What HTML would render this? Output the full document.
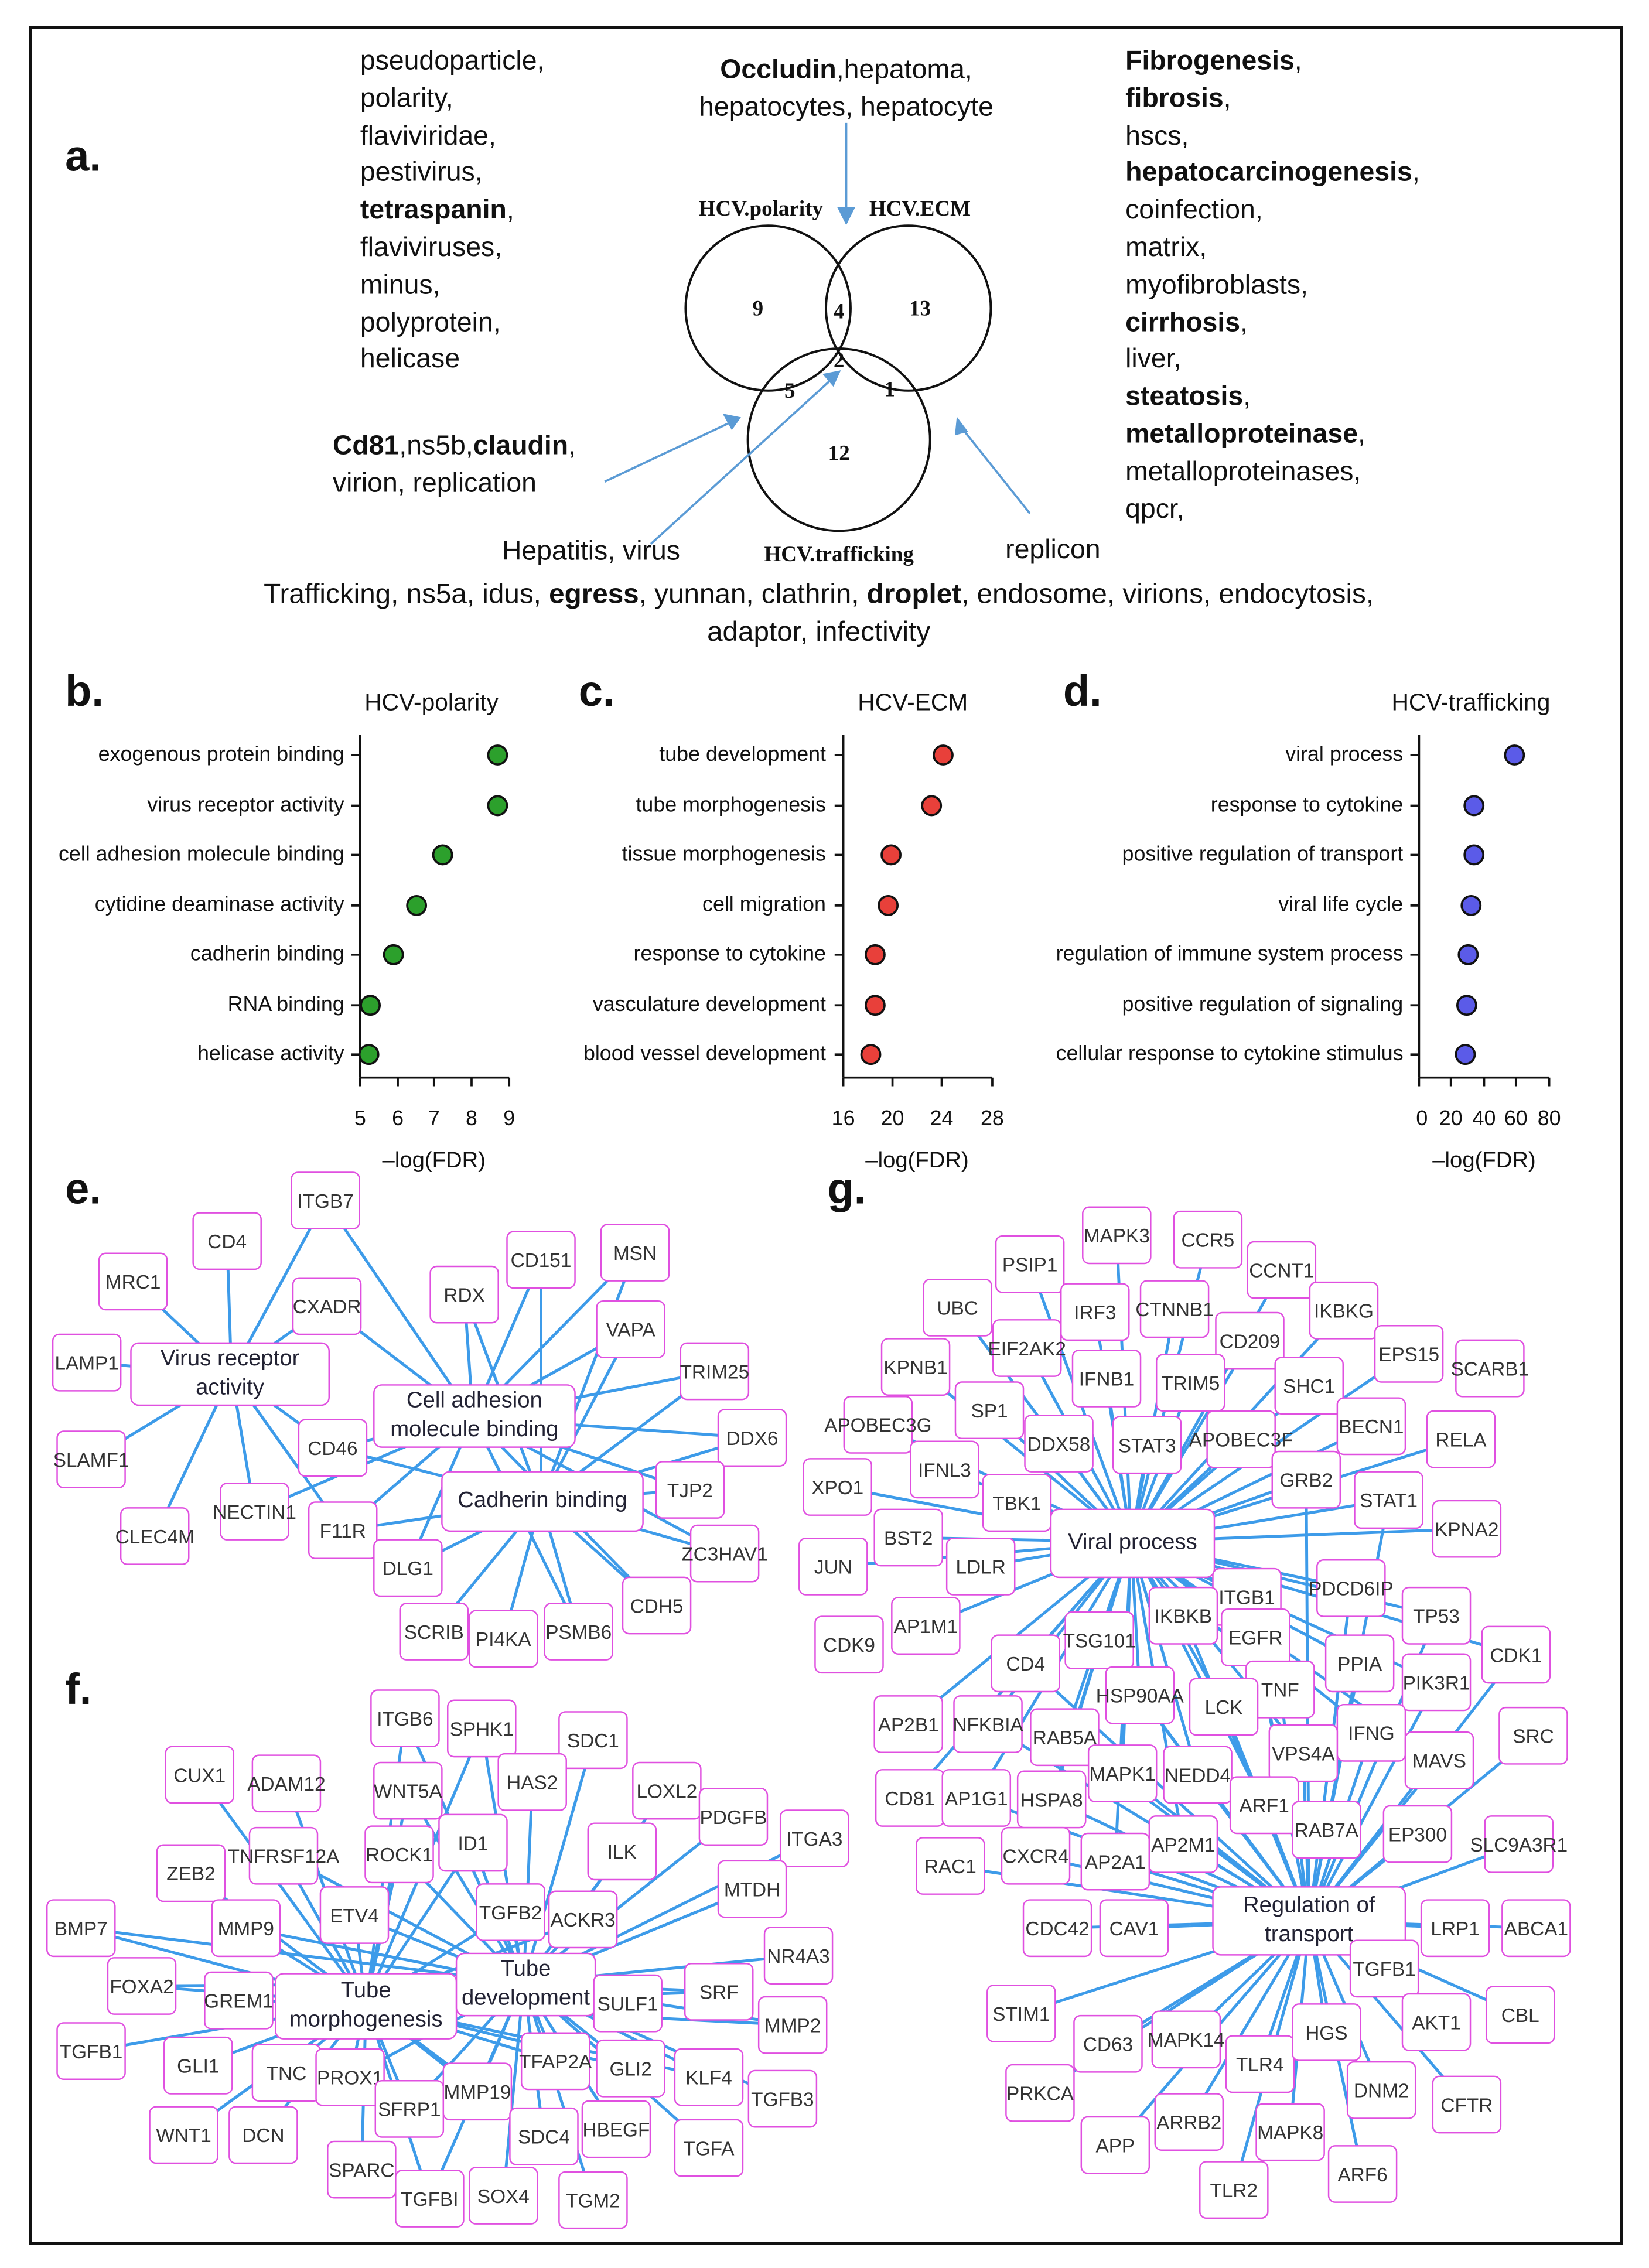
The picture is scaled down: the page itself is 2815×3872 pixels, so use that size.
<!DOCTYPE html>
<html><head><meta charset="utf-8"><style>
html,body{margin:0;padding:0;background:#fff}
body{width:2815px;height:3872px;overflow:hidden;position:relative}
#w{position:absolute;left:0;top:0;width:1140px;height:1568px;transform:scale(2.4693,2.4694);transform-origin:0 0;font-family:"Liberation Sans",sans-serif;color:#111}
.t{position:absolute;white-space:nowrap}
.wl{position:absolute;font-size:18.8px;line-height:25.8px;white-space:pre}
.n{position:absolute;width:46px;height:38px;margin-left:-24px;margin-top:-20px;border:1.6px solid #e050e0;border-radius:5px;background:#fff;display:flex;align-items:center;justify-content:center;font-size:13.5px;color:#333;white-space:nowrap;overflow:visible}
.h{position:absolute;border:1.6px solid #e050e0;border-radius:6px;background:#fff;display:flex;align-items:center;justify-content:center;text-align:center;font-size:15.5px;line-height:20px;color:#223}
.lbl{position:absolute;font-size:14.5px;text-align:right;width:240px;white-space:nowrap}
.tk{position:absolute;font-size:14.5px;transform:translateX(-50%)}
.big{position:absolute;font-size:30px;font-weight:bold}
svg{position:absolute;left:0;top:0}
</style></head><body><div id="w">
<div style="position:absolute;left:20px;top:18px;width:1098px;height:1530px;border:2px solid #111"></div>

<div class="big" style="left:45px;top:92px">a.</div>
<div class="wl" style="left:249px;top:29px">pseudoparticle,
polarity,
flaviviridae,
pestivirus,
<b>tetraspanin</b>,
flaviviruses,
minus,
polyprotein,
helicase</div>
<div class="wl" style="left:778px;top:29px"><b>Fibrogenesis</b>,
<b>fibrosis</b>,
hscs,
<b>hepatocarcinogenesis</b>,
coinfection,
matrix,
myofibroblasts,
<b>cirrhosis</b>,
liver,
<b>steatosis</b>,
<b>metalloproteinase</b>,
metalloproteinases,
qpcr,</div>
<div class="wl" style="left:465px;top:35px;width:240px;text-align:center"><b>Occludin</b>,hepatoma,
hepatocytes, hepatocyte</div>
<div class="wl" style="left:230px;top:295px"><b>Cd81</b>,ns5b,<b>claudin</b>,
virion, replication</div>
<div class="wl" style="left:347px;top:368px">Hepatitis, virus</div>
<div class="wl" style="left:695px;top:367px">replicon</div>
<div class="wl" style="left:90px;top:399px;width:952px;text-align:center;font-size:19.3px">Trafficking, ns5a, idus, <b>egress</b>, yunnan, clathrin, <b>droplet</b>, endosome, virions, endocytosis,
adaptor, infectivity</div>

<svg width="1140" height="1568" viewBox="0 0 1140 1568">
<g fill="none" stroke="#111" stroke-width="1.6">
<circle cx="531" cy="213" r="57"/><circle cx="628" cy="213" r="57"/><circle cx="580" cy="304" r="63"/>
</g>
<g font-family="Liberation Serif,serif" font-weight="bold" font-size="15" text-anchor="middle" fill="#111">
<text x="526" y="149">HCV.polarity</text><text x="636" y="149">HCV.ECM</text><text x="580" y="388">HCV.trafficking</text>
<text x="524" y="218">9</text><text x="580" y="220">4</text><text x="636" y="218">13</text><text x="580" y="254">2</text><text x="546" y="275">5</text><text x="615" y="274">1</text><text x="580" y="318">12</text>
</g>
<g stroke="#5b9bd5" stroke-width="1.5" fill="#5b9bd5">
<line x1="585" y1="85" x2="585" y2="148"/><polygon points="580,144 590,144 585,154"/>
<line x1="418" y1="333" x2="505" y2="292"/><polygon points="501,287 511,289 506,296"/>
<line x1="450" y1="376" x2="574" y2="263"/><polygon points="570,259 580,257 576,266"/>
<line x1="712" y1="355" x2="665" y2="296"/><polygon points="661,300 668,298 662,290"/>
</g>

<g stroke="#111" stroke-width="1.5">
<line x1="249" y1="508" x2="249" y2="745"/><line x1="249" y1="745" x2="352" y2="745"/>
<line x1="583" y1="508" x2="583" y2="745"/><line x1="583" y1="745" x2="686" y2="745"/>
<line x1="981" y1="508" x2="981" y2="745"/><line x1="981" y1="745" x2="1071" y2="745"/>
<path d="M249 745v6M275 745v6M300 745v6M326 745v6M352 745v6M583 745v6M617 745v6M651 745v6M686 745v6M981 745v6M1003 745v6M1026 745v6M1048 745v6M1071 745v6"/>
<path d="M243 522h6M243 557h6M243 591h6M243 626h6M243 660h6M243 695h6M243 729h6M577 522h6M577 557h6M577 591h6M577 626h6M577 660h6M577 695h6M577 729h6M975 522h6M975 557h6M975 591h6M975 626h6M975 660h6M975 695h6M975 729h6"/>
</g>
<g stroke="#111" stroke-width="1.5">
<g fill="#2ca02c"><circle cx="344" cy="522" r="6.5"/><circle cx="344" cy="557" r="6.5"/><circle cx="306" cy="591" r="6.5"/><circle cx="288" cy="626" r="6.5"/><circle cx="272" cy="660" r="6.5"/><circle cx="256" cy="695" r="6.5"/><circle cx="255" cy="729" r="6.5"/></g>
<g fill="#e8403a"><circle cx="652" cy="522" r="6.5"/><circle cx="644" cy="557" r="6.5"/><circle cx="616" cy="591" r="6.5"/><circle cx="614" cy="626" r="6.5"/><circle cx="605" cy="660" r="6.5"/><circle cx="605" cy="695" r="6.5"/><circle cx="602" cy="729" r="6.5"/></g>
<g fill="#5b5be8"><circle cx="1047" cy="522" r="6.5"/><circle cx="1019" cy="557" r="6.5"/><circle cx="1019" cy="591" r="6.5"/><circle cx="1017" cy="626" r="6.5"/><circle cx="1015" cy="660" r="6.5"/><circle cx="1014" cy="695" r="6.5"/><circle cx="1013" cy="729" r="6.5"/></g>
</g>

<g stroke="#3d9be9" stroke-width="2" fill="none">
<path d="M160 950L225 830M160 950L157 858M160 950L92 886M160 950L226 903M160 950L60 942M160 950L63 1009M160 950L230 1001M160 950L176 1045M160 950L107 1062M160 950L237 1058"/>
<path d="M327 980L225 830M327 980L226 903M327 980L321 895M327 980L374 871M327 980L439 866M327 980L436 919M327 980L494 948M327 980L520 994M327 980L477 1030M327 980L230 1001M327 980L237 1058M327 980L282 1084M327 980L176 1045M327 980L501 1074M327 980L454 1110M327 980L400 1128"/>
<path d="M374 1038L321 895M374 1038L374 871M374 1038L439 866M374 1038L436 919M374 1038L494 948M374 1038L520 994M374 1038L477 1030M374 1038L501 1074M374 1038L454 1110M374 1038L400 1128M374 1038L348 1133M374 1038L300 1128M374 1038L282 1084M374 1038L237 1058M374 1038L230 1001"/>
<path d="M253 1385L280 1188M253 1385L333 1195M253 1385L138 1227M253 1385L198 1233M253 1385L282 1238M253 1385L132 1295M253 1385L196 1283M253 1385L276 1282M253 1385L327 1274M253 1385L56 1333M253 1385L170 1333M253 1385L245 1324M253 1385L353 1322M253 1385L98 1373M253 1385L165 1383M253 1385L63 1418M253 1385L137 1428M253 1385L198 1433M253 1385L242 1436M253 1385L127 1476M253 1385L182 1476M253 1385L283 1458M253 1385L330 1446M253 1385L250 1500M253 1385L297 1520M253 1385L384 1425M253 1385L436 1430M253 1385L490 1436M253 1385L497 1377M253 1385L434 1385M253 1385L403 1327M253 1385L376 1477M253 1385L548 1400"/>
<path d="M362 1371L280 1188M362 1371L333 1195M362 1371L410 1203M362 1371L282 1238M362 1371L368 1232M362 1371L461 1238M362 1371L507 1256M362 1371L563 1271M362 1371L276 1282M362 1371L327 1274M362 1371L430 1280M362 1371L56 1333M362 1371L170 1333M362 1371L245 1324M362 1371L353 1322M362 1371L403 1327M362 1371L520 1306M362 1371L552 1352M362 1371L98 1373M362 1371L497 1377M362 1371L434 1385M362 1371L548 1400M362 1371L384 1425M362 1371L436 1430M362 1371L490 1436M362 1371L541 1451M362 1371L283 1458M362 1371L330 1446M362 1371L376 1477M362 1371L426 1472M362 1371L490 1485M362 1371L348 1518M362 1371L410 1521M362 1371L297 1520M362 1371L242 1436M362 1371L196 1283"/>
<path d="M782 1066L772 854M782 1066L835 857M782 1066L712 874M782 1066L886 878M782 1066L662 904M782 1066L757 907M782 1066L812 905M782 1066L929 906M782 1066L864 927M782 1066L710 932M782 1066L974 936M782 1066L633 945M782 1066L765 953M782 1066L823 956M782 1066L905 958M782 1066L684 975M782 1066L607 985M782 1066L732 998M782 1066L793 999M782 1066L858 995M782 1066L948 986M782 1066L1010 995M782 1066L653 1016M782 1066L579 1028M782 1066L903 1023M782 1066L960 1037M782 1066L703 1039M782 1066L628 1063M782 1066L1014 1057M782 1066L678 1083M782 1066L576 1083M782 1066L862 1104M782 1066L934 1098M782 1066L818 1117M782 1066L993 1117M782 1066L640 1124M782 1066L760 1134M782 1066L868 1132M782 1066L940 1150M782 1066L709 1150M782 1066L885 1168M782 1066L788 1172M782 1066L846 1180M782 1066L683 1192M782 1066L628 1192M782 1066L736 1201M782 1066L948 1198M782 1066L901 1212M782 1066L995 1217M782 1066L776 1226M782 1066L828 1227M782 1066L727 1244M782 1066L629 1243M782 1066L675 1243M782 1066L874 1248M782 1066L716 1283M782 1066L771 1287M782 1066L818 1275M782 1066L1048 1144M782 1066L993 1163"/>
<path d="M905 1328L862 1104M905 1328L934 1098M905 1328L818 1117M905 1328L993 1117M905 1328L760 1134M905 1328L868 1132M905 1328L940 1150M905 1328L709 1150M905 1328L885 1168M905 1328L788 1172M905 1328L846 1180M905 1328L683 1192M905 1328L736 1201M905 1328L1060 1200M905 1328L948 1198M905 1328L901 1212M905 1328L995 1217M905 1328L776 1226M905 1328L828 1227M905 1328L727 1244M905 1328L675 1243M905 1328L874 1248M905 1328L917 1265M905 1328L980 1268M905 1328L1050 1275M905 1328L716 1283M905 1328L771 1287M905 1328L818 1275M905 1328L657 1290M905 1328L731 1333M905 1328L784 1333M905 1328L1006 1333M905 1328L1062 1333M905 1328L957 1361M905 1328L706 1392M905 1328L766 1413M905 1328L820 1410M905 1328L871 1427M905 1328L917 1405M905 1328L993 1398M905 1328L1051 1393M905 1328L955 1445M905 1328L1014 1455M905 1328L719 1447M905 1328L822 1467M905 1328L892 1474M905 1328L771 1483M905 1328L942 1503M905 1328L853 1514M905 1328L903 1023M905 1328L960 1037M905 1328L1048 1144M905 1328L993 1163"/>
</g>
</svg>

<div class="big" style="left:45px;top:462px">b.</div>
<div class="big" style="left:400px;top:462px">c.</div>
<div class="big" style="left:735px;top:462px">d.</div>
<div class="t" style="left:252px;top:477px;font-size:16.5px">HCV-polarity</div>
<div class="t" style="left:593px;top:477px;font-size:16.5px">HCV-ECM</div>
<div class="t" style="left:962px;top:477px;font-size:16.5px">HCV-trafficking</div>

<div class="lbl" style="left:-2px;top:514px">exogenous protein binding</div>
<div class="lbl" style="left:-2px;top:549px">virus receptor activity</div>
<div class="lbl" style="left:-2px;top:583px">cell adhesion molecule binding</div>
<div class="lbl" style="left:-2px;top:618px">cytidine deaminase activity</div>
<div class="lbl" style="left:-2px;top:652px">cadherin binding</div>
<div class="lbl" style="left:-2px;top:687px">RNA binding</div>
<div class="lbl" style="left:-2px;top:721px">helicase activity</div>

<div class="lbl" style="left:331px;top:514px">tube development</div>
<div class="lbl" style="left:331px;top:549px">tube morphogenesis</div>
<div class="lbl" style="left:331px;top:583px">tissue morphogenesis</div>
<div class="lbl" style="left:331px;top:618px">cell migration</div>
<div class="lbl" style="left:331px;top:652px">response to cytokine</div>
<div class="lbl" style="left:331px;top:687px">vasculature development</div>
<div class="lbl" style="left:331px;top:721px">blood vessel development</div>

<div class="lbl" style="left:730px;top:514px">viral process</div>
<div class="lbl" style="left:730px;top:549px">response to cytokine</div>
<div class="lbl" style="left:730px;top:583px">positive regulation of transport</div>
<div class="lbl" style="left:730px;top:618px">viral life cycle</div>
<div class="lbl" style="left:730px;top:652px">regulation of immune system process</div>
<div class="lbl" style="left:730px;top:687px">positive regulation of signaling</div>
<div class="lbl" style="left:730px;top:721px">cellular response to cytokine stimulus</div>

<div class="tk" style="left:249px;top:766px">5</div><div class="tk" style="left:275px;top:766px">6</div><div class="tk" style="left:300px;top:766px">7</div><div class="tk" style="left:326px;top:766px">8</div><div class="tk" style="left:352px;top:766px">9</div>
<div class="tk" style="left:583px;top:766px">16</div><div class="tk" style="left:617px;top:766px">20</div><div class="tk" style="left:651px;top:766px">24</div><div class="tk" style="left:686px;top:766px">28</div>
<div class="tk" style="left:983px;top:766px">0</div><div class="tk" style="left:1003px;top:766px">20</div><div class="tk" style="left:1026px;top:766px">40</div><div class="tk" style="left:1048px;top:766px">60</div><div class="tk" style="left:1071px;top:766px">80</div>
<div class="tk" style="left:300px;top:794px;font-size:15.5px">–log(FDR)</div>
<div class="tk" style="left:634px;top:794px;font-size:15.5px">–log(FDR)</div>
<div class="tk" style="left:1026px;top:794px;font-size:15.5px">–log(FDR)</div>

<div class="big" style="left:45px;top:806px">e.</div>
<div class="big" style="left:45px;top:1152px">f.</div>
<div class="big" style="left:572px;top:806px">g.</div>

<div class="h" style="left:90px;top:928px;width:136px;height:42px">Virus receptor<br>activity</div>
<div class="h" style="left:258px;top:957px;width:138px;height:42px">Cell adhesion<br>molecule binding</div>
<div class="h" style="left:305px;top:1017px;width:138px;height:40px">Cadherin binding</div>
<div class="n" style="left:225px;top:830px">ITGB7</div><div class="n" style="left:157px;top:858px">CD4</div><div class="n" style="left:92px;top:886px">MRC1</div><div class="n" style="left:226px;top:903px">CXADR</div><div class="n" style="left:60px;top:942px">LAMP1</div><div class="n" style="left:63px;top:1009px">SLAMF1</div><div class="n" style="left:230px;top:1001px">CD46</div><div class="n" style="left:176px;top:1045px">NECTIN1</div><div class="n" style="left:107px;top:1062px">CLEC4M</div><div class="n" style="left:237px;top:1058px">F11R</div><div class="n" style="left:321px;top:895px">RDX</div><div class="n" style="left:374px;top:871px">CD151</div><div class="n" style="left:439px;top:866px">MSN</div><div class="n" style="left:436px;top:919px">VAPA</div><div class="n" style="left:494px;top:948px">TRIM25</div><div class="n" style="left:520px;top:994px">DDX6</div><div class="n" style="left:477px;top:1030px">TJP2</div><div class="n" style="left:501px;top:1074px">ZC3HAV1</div><div class="n" style="left:454px;top:1110px">CDH5</div><div class="n" style="left:400px;top:1128px">PSMB6</div><div class="n" style="left:348px;top:1133px">PI4KA</div><div class="n" style="left:300px;top:1128px">SCRIB</div><div class="n" style="left:282px;top:1084px">DLG1</div>

<div class="h" style="left:190px;top:1364px;width:124px;height:44px">Tube<br>morphogenesis</div>
<div class="h" style="left:315px;top:1350px;width:95px;height:42px">Tube<br>development</div>
<div class="n" style="left:280px;top:1188px">ITGB6</div><div class="n" style="left:333px;top:1195px">SPHK1</div><div class="n" style="left:410px;top:1203px">SDC1</div><div class="n" style="left:138px;top:1227px">CUX1</div><div class="n" style="left:198px;top:1233px">ADAM12</div><div class="n" style="left:282px;top:1238px">WNT5A</div><div class="n" style="left:368px;top:1232px">HAS2</div><div class="n" style="left:461px;top:1238px">LOXL2</div><div class="n" style="left:507px;top:1256px">PDGFB</div><div class="n" style="left:563px;top:1271px">ITGA3</div><div class="n" style="left:132px;top:1295px">ZEB2</div><div class="n" style="left:196px;top:1283px">TNFRSF12A</div><div class="n" style="left:276px;top:1282px">ROCK1</div><div class="n" style="left:327px;top:1274px">ID1</div><div class="n" style="left:430px;top:1280px">ILK</div><div class="n" style="left:56px;top:1333px">BMP7</div><div class="n" style="left:170px;top:1333px">MMP9</div><div class="n" style="left:245px;top:1324px">ETV4</div><div class="n" style="left:353px;top:1322px">TGFB2</div><div class="n" style="left:403px;top:1327px">ACKR3</div><div class="n" style="left:520px;top:1306px">MTDH</div><div class="n" style="left:552px;top:1352px">NR4A3</div><div class="n" style="left:98px;top:1373px">FOXA2</div><div class="n" style="left:165px;top:1383px">GREM1</div><div class="n" style="left:497px;top:1377px">SRF</div><div class="n" style="left:434px;top:1385px">SULF1</div><div class="n" style="left:548px;top:1400px">MMP2</div><div class="n" style="left:63px;top:1418px">TGFB1</div><div class="n" style="left:137px;top:1428px">GLI1</div><div class="n" style="left:198px;top:1433px">TNC</div><div class="n" style="left:242px;top:1436px">PROX1</div><div class="n" style="left:384px;top:1425px">TFAP2A</div><div class="n" style="left:436px;top:1430px">GLI2</div><div class="n" style="left:490px;top:1436px">KLF4</div><div class="n" style="left:541px;top:1451px">TGFB3</div><div class="n" style="left:283px;top:1458px">SFRP1</div><div class="n" style="left:330px;top:1446px">MMP19</div><div class="n" style="left:127px;top:1476px">WNT1</div><div class="n" style="left:182px;top:1476px">DCN</div><div class="n" style="left:376px;top:1477px">SDC4</div><div class="n" style="left:426px;top:1472px">HBEGF</div><div class="n" style="left:490px;top:1485px">TGFA</div><div class="n" style="left:250px;top:1500px">SPARC</div><div class="n" style="left:297px;top:1520px">TGFBI</div><div class="n" style="left:348px;top:1518px">SOX4</div><div class="n" style="left:410px;top:1521px">TGM2</div>

<div class="n" style="left:772px;top:854px">MAPK3</div><div class="n" style="left:835px;top:857px">CCR5</div><div class="n" style="left:712px;top:874px">PSIP1</div><div class="n" style="left:886px;top:878px">CCNT1</div><div class="n" style="left:662px;top:904px">UBC</div><div class="n" style="left:757px;top:907px">IRF3</div><div class="n" style="left:812px;top:905px">CTNNB1</div><div class="n" style="left:929px;top:906px">IKBKG</div><div class="n" style="left:864px;top:927px">CD209</div><div class="n" style="left:710px;top:932px">EIF2AK2</div><div class="n" style="left:974px;top:936px">EPS15</div><div class="n" style="left:1030px;top:946px">SCARB1</div><div class="n" style="left:633px;top:945px">KPNB1</div><div class="n" style="left:765px;top:953px">IFNB1</div><div class="n" style="left:823px;top:956px">TRIM5</div><div class="n" style="left:905px;top:958px">SHC1</div><div class="n" style="left:684px;top:975px">SP1</div><div class="n" style="left:607px;top:985px">APOBEC3G</div><div class="n" style="left:732px;top:998px">DDX58</div><div class="n" style="left:793px;top:999px">STAT3</div><div class="n" style="left:858px;top:995px">APOBEC3F</div><div class="n" style="left:948px;top:986px">BECN1</div><div class="n" style="left:1010px;top:995px">RELA</div><div class="n" style="left:653px;top:1016px">IFNL3</div><div class="n" style="left:579px;top:1028px">XPO1</div><div class="n" style="left:903px;top:1023px">GRB2</div><div class="n" style="left:960px;top:1037px">STAT1</div><div class="n" style="left:703px;top:1039px">TBK1</div><div class="n" style="left:628px;top:1063px">BST2</div><div class="n" style="left:1014px;top:1057px">KPNA2</div><div class="n" style="left:678px;top:1083px">LDLR</div><div class="n" style="left:576px;top:1083px">JUN</div>
<div class="h" style="left:726px;top:1043px;width:112px;height:46px">Viral process</div>
<div class="n" style="left:862px;top:1104px">ITGB1</div><div class="n" style="left:934px;top:1098px">PDCD6IP</div><div class="n" style="left:818px;top:1117px">IKBKB</div><div class="n" style="left:993px;top:1117px">TP53</div><div class="n" style="left:640px;top:1124px">AP1M1</div><div class="n" style="left:587px;top:1137px">CDK9</div><div class="n" style="left:760px;top:1134px">TSG101</div><div class="n" style="left:868px;top:1132px">EGFR</div><div class="n" style="left:940px;top:1150px">PPIA</div><div class="n" style="left:1048px;top:1144px">CDK1</div><div class="n" style="left:709px;top:1150px">CD4</div><div class="n" style="left:993px;top:1163px">PIK3R1</div><div class="n" style="left:885px;top:1168px">TNF</div><div class="n" style="left:788px;top:1172px">HSP90AA</div><div class="n" style="left:846px;top:1180px">LCK</div><div class="n" style="left:683px;top:1192px">NFKBIA</div><div class="n" style="left:628px;top:1192px">AP2B1</div><div class="n" style="left:736px;top:1201px">RAB5A</div><div class="n" style="left:1060px;top:1200px">SRC</div><div class="n" style="left:948px;top:1198px">IFNG</div><div class="n" style="left:901px;top:1212px">VPS4A</div><div class="n" style="left:995px;top:1217px">MAVS</div><div class="n" style="left:776px;top:1226px">MAPK1</div><div class="n" style="left:828px;top:1227px">NEDD4</div><div class="n" style="left:727px;top:1244px">HSPA8</div><div class="n" style="left:629px;top:1243px">CD81</div><div class="n" style="left:675px;top:1243px">AP1G1</div><div class="n" style="left:874px;top:1248px">ARF1</div><div class="n" style="left:917px;top:1265px">RAB7A</div><div class="n" style="left:980px;top:1268px">EP300</div><div class="n" style="left:1050px;top:1275px">SLC9A3R1</div><div class="n" style="left:716px;top:1283px">CXCR4</div><div class="n" style="left:771px;top:1287px">AP2A1</div><div class="n" style="left:818px;top:1275px">AP2M1</div><div class="n" style="left:657px;top:1290px">RAC1</div><div class="n" style="left:731px;top:1333px">CDC42</div><div class="n" style="left:784px;top:1333px">CAV1</div>
<div class="h" style="left:838px;top:1304px;width:132px;height:46px">Regulation of<br>transport</div>
<div class="n" style="left:1006px;top:1333px">LRP1</div><div class="n" style="left:1062px;top:1333px">ABCA1</div><div class="n" style="left:957px;top:1361px">TGFB1</div><div class="n" style="left:706px;top:1392px">STIM1</div><div class="n" style="left:766px;top:1413px">CD63</div><div class="n" style="left:820px;top:1410px">MAPK14</div><div class="n" style="left:871px;top:1427px">TLR4</div><div class="n" style="left:917px;top:1405px">HGS</div><div class="n" style="left:993px;top:1398px">AKT1</div><div class="n" style="left:1051px;top:1393px">CBL</div><div class="n" style="left:955px;top:1445px">DNM2</div><div class="n" style="left:1014px;top:1455px">CFTR</div><div class="n" style="left:719px;top:1447px">PRKCA</div><div class="n" style="left:822px;top:1467px">ARRB2</div><div class="n" style="left:892px;top:1474px">MAPK8</div><div class="n" style="left:771px;top:1483px">APP</div><div class="n" style="left:942px;top:1503px">ARF6</div><div class="n" style="left:853px;top:1514px">TLR2</div>
</div></body></html>
